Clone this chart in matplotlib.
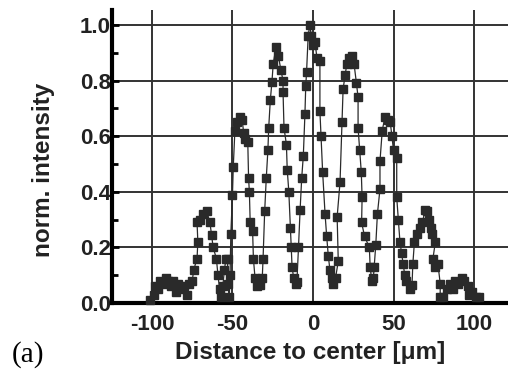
import numpy as np
import matplotlib
matplotlib.use('Agg')
import matplotlib.pyplot as plt
from matplotlib.ticker import MultipleLocator

## DATA

distance = [-101, -99, -98, -96, -95, -93, -91, -90, -88, -87, -85, -84, -82, -80,
            -78, -77, -75, -74, -72, -71.5, -72, -70, -68, -66, -64, -63, -62, -60,
            -59, -58, -57, -56, -55, -54, -53, -53, -52, -51.5, -51, -50, -49.5,
            -48.5, -47, -45.5, -44, -43, -42, -40.5, -40, -39.5, -39, -37.5, -37,
            -36, -34.5, -33, -31.5, -31, -30, -29, -28, -27.5, -26.5, -25.5, -24.7,
            -23, -21.5, -20, -18.6, -18.6, -18, -16.5, -16, -15, -14, -13.5, -13,
            -12, -10.5, -10, -9, -8, -7, -6, -5, -4.5, -4, -3, -2, -1, 0, 1.2, 2.5,
            4.3, 4.3, 5, 6, 7.5, 8.5, 9.5, 10.5, 11.6, 12.5, 14, 15.7, 15, 16.8, 18,
            18.7, 20, 21, 22.5, 24, 25.5, 27, 28, 28, 29, 30, 30.5, 30.2, 32, 35,
            35.5, 36.5, 37.5, 38, 39, 40, 41.6, 41.6, 43, 44.7, 46.5, 48, 49, 50,
            52, 52, 53, 54, 55, 56, 57, 58, 60, 61.5, 62, 63, 64.5, 66.5, 68, 69.6,
            70.6, 72, 73, 74, 76, 74.5, 75.5, 77.6, 79, 79, 81, 83, 85, 87, 88, 90,
            92.5, 94, 96, 97, 99, 101, 103]

intensity = [0.01, 0.03, 0.06, 0.05, 0.08, 0.07, 0.09, 0.08, 0.06, 0.08, 0.04, 0.07, 0.05, 0.06,
             0.03, 0.07, 0.08, 0.12, 0.16, 0.22, 0.29, 0.30, 0.32, 0.33, 0.29, 0.245, 0.20, 0.16,
             0.10, 0.05, 0.02, 0.06, 0.12, 0.16, 0.16, 0.07, 0.02, 0.10, 0.25, 0.39, 0.49,
             0.62, 0.65, 0.67, 0.66, 0.61, 0.59, 0.58, 0.45, 0.40, 0.29, 0.26, 0.16,
             0.09, 0.06, 0.065, 0.09, 0.16, 0.33, 0.45, 0.55, 0.63, 0.73, 0.795, 0.86,
             0.92, 0.89, 0.84, 0.80, 0.76, 0.63, 0.57, 0.48, 0.40, 0.27, 0.20, 0.13,
             0.09, 0.07, 0.075, 0.20, 0.335, 0.45, 0.53, 0.68, 0.78, 0.83, 0.96, 1.00, 0.96, 0.93, 0.94, 0.88,
             0.87, 0.69, 0.60, 0.47, 0.32, 0.24, 0.17, 0.12, 0.09, 0.07, 0.09, 0.15, 0.31, 0.435, 0.65,
             0.77, 0.82, 0.86, 0.88, 0.89, 0.86, 0.79, 0.74, 0.63, 0.55, 0.47, 0.38, 0.29, 0.24, 0.20,
             0.13, 0.08, 0.09, 0.13, 0.21, 0.32, 0.41, 0.51, 0.62, 0.67, 0.66, 0.65, 0.60, 0.55,
             0.52, 0.38, 0.30, 0.22, 0.18, 0.14, 0.10, 0.08, 0.05, 0.065, 0.14, 0.22, 0.25, 0.27, 0.29, 0.335,
             0.33, 0.30, 0.27, 0.25, 0.22, 0.16, 0.13, 0.14, 0.07, 0.02, 0.02, 0.05, 0.07, 0.05, 0.08, 0.07,
             0.09, 0.08, 0.06, 0.03, 0.04, 0.02, 0.02]

x_ticks = [-100, -50, 0, 50, 100]
y_ticks = [0.0, 0.2, 0.4, 0.6, 0.8, 1.0]

## PLOTTING

plt.rcParams['font.family'] = ['Liberation Sans', 'DejaVu Sans']
plt.rcParams['font.weight'] = 'bold'

fig = plt.figure(figsize=(5.08, 3.72), dpi=100)
ax = fig.add_axes([0.2205, 0.1855, 0.7795, 0.7875])

ax.plot(distance, intensity, color='#2a2a2a', lw=0.9, marker='s', ms=6.2,
        mfc='#2a2a2a', mec='#2a2a2a', zorder=3, clip_on=False)

ax.set_xlim(-124.8, 121.1)
ax.set_ylim(0, 1.054)
ax.set_xticks(x_ticks)
ax.set_xticklabels([str(t) for t in x_ticks])
ax.set_yticks(y_ticks)
ax.set_yticklabels(['%.1f' % t for t in y_ticks])
ax.yaxis.set_minor_locator(MultipleLocator(0.1))

ax.grid(True, color='#333333', lw=1.4, zorder=1)
ax.spines['top'].set_visible(False)
ax.spines['right'].set_visible(False)
ax.spines['left'].set_linewidth(3)
ax.spines['bottom'].set_linewidth(3)

ax.tick_params(axis='y', which='major', direction='in', length=5, width=2, pad=1,
               labelsize=16, labelcolor='#222222')
ax.tick_params(axis='y', which='minor', direction='in', length=4, width=2)
ax.tick_params(axis='x', which='major', length=0, pad=8, labelsize=16, labelcolor='#222222')

ax.set_xlabel('Distance to center [μm]', fontsize=17.5, fontweight='bold', labelpad=4, color='#222222')
ax.set_ylabel('norm. intensity', fontsize=17.5, fontweight='bold', color='#222222')
ax.yaxis.set_label_coords(-0.145, 0.455)

fig.text(0.024, 0.028, '(a)', fontsize=21, family='Liberation Serif', weight='normal')

plt.savefig('out.png', dpi=100)
